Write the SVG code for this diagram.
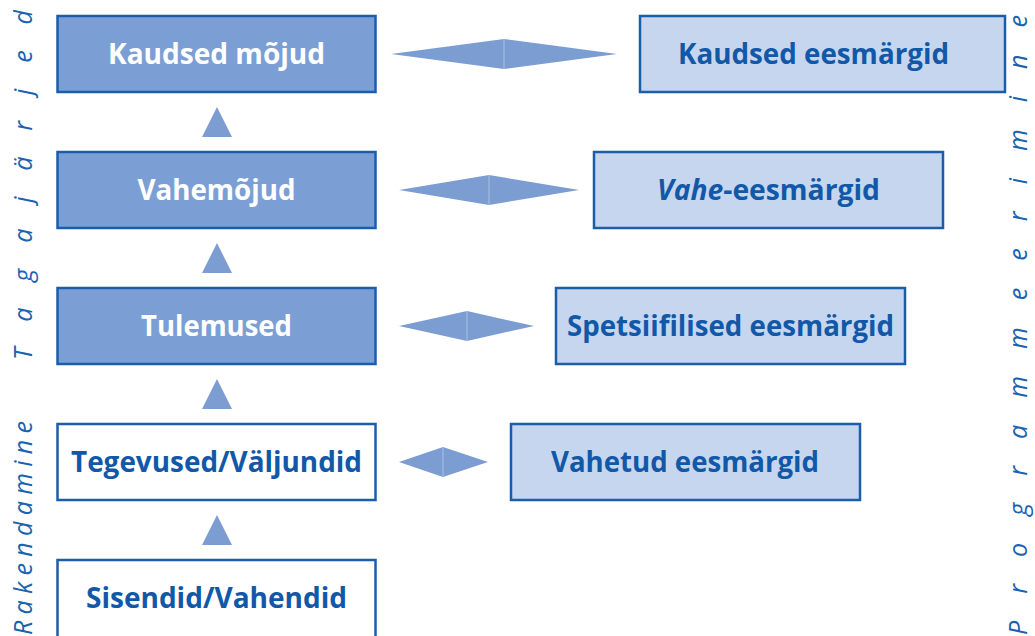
<svg xmlns="http://www.w3.org/2000/svg" width="1035" height="636" viewBox="0 0 1035 636">
  <defs>
    <style>
      .dark { fill: #7b9fd4; stroke: #1a5eab; stroke-width: 2.5; }
      .light { fill: #c7d6ef; stroke: #1a5eab; stroke-width: 2.5; }
      .white { fill: #ffffff; stroke: #1a5eab; stroke-width: 2.5; }
      .lbl { font-family: "Open Sans", "Liberation Sans", sans-serif; font-weight: bold; font-size: 28px; text-anchor: middle; }
      .lw { fill: #ffffff; }
      .lb { fill: #1159a8; }
      .side { font-family: "Open Sans", "Liberation Sans", sans-serif; font-style: italic; font-size: 25px; fill: #1a63b0; }
      .dia { fill: #7b9dd1; }
      .mid { stroke: #a9c1e6; stroke-width: 1; }
      .tri { fill: #7b9dd1; }
    </style>
  </defs>

  <g id="side-labels">
    <text class="side" transform="translate(32,360) rotate(-90)" textLength="350" lengthAdjust="spacing">Tagajärjed</text>
    <text class="side" transform="translate(32,635) rotate(-90)" textLength="214" lengthAdjust="spacing">Rakendamine</text>
    <text class="side" transform="translate(1027,635) rotate(-90)" textLength="620" lengthAdjust="spacing">Programmeerimine</text>
  </g>

  <g id="connectors">
    <g id="diamond1">
      <polygon class="dia" points="391,54 504,39 617,54 504,69"/>
      <line class="mid" x1="504" y1="39" x2="504" y2="69"/>
    </g>
    <g id="diamond2">
      <polygon class="dia" points="399,190 489,175 579,190 489,205"/>
      <line class="mid" x1="489" y1="175" x2="489" y2="205"/>
    </g>
    <g id="diamond3">
      <polygon class="dia" points="399,326 467,311 534,326 467,341"/>
      <line class="mid" x1="467" y1="311" x2="467" y2="341"/>
    </g>
    <g id="diamond4">
      <polygon class="dia" points="399,462 443,447 488,462 443,477"/>
      <line class="mid" x1="443" y1="447" x2="443" y2="477"/>
    </g>
    <polygon class="tri" points="217,107 232,137 202,137"/>
    <polygon class="tri" points="217,243 232,273 202,273"/>
    <polygon class="tri" points="217,379 232,409 202,409"/>
    <polygon class="tri" points="217,515 232,545 202,545"/>
  </g>

  <g id="kaudsed-mojud">
    <rect class="dark" x="57.5" y="16" width="318" height="76"/>
    <text class="lbl lw" x="216.5" y="64" textLength="217" lengthAdjust="spacingAndGlyphs">Kaudsed mõjud</text>
  </g>
  <g id="vahemojud">
    <rect class="dark" x="57.5" y="152" width="318" height="76"/>
    <text class="lbl lw" x="216.5" y="200" textLength="158" lengthAdjust="spacingAndGlyphs">Vahemõjud</text>
  </g>
  <g id="tulemused">
    <rect class="dark" x="57.5" y="288" width="318" height="76"/>
    <text class="lbl lw" x="216.5" y="336" textLength="151" lengthAdjust="spacingAndGlyphs">Tulemused</text>
  </g>
  <g id="tegevused">
    <rect class="white" x="57.5" y="424" width="318" height="76"/>
    <text class="lbl lb" x="216.5" y="472" textLength="291" lengthAdjust="spacingAndGlyphs">Tegevused/Väljundid</text>
  </g>
  <g id="sisendid">
    <rect class="white" x="57.5" y="560" width="318" height="80"/>
    <text class="lbl lb" x="216.5" y="608" textLength="261" lengthAdjust="spacingAndGlyphs">Sisendid/Vahendid</text>
  </g>

  <g id="kaudsed-eesmargid">
    <rect class="light" x="640" y="16" width="365" height="76"/>
    <text class="lbl lb" x="813.5" y="64" textLength="271" lengthAdjust="spacingAndGlyphs">Kaudsed eesmärgid</text>
  </g>
  <g id="vahe-eesmargid">
    <rect class="light" x="594" y="152" width="349" height="76"/>
    <text class="lbl lb" x="768.5" y="200" textLength="223" lengthAdjust="spacingAndGlyphs"><tspan font-style="italic">Vahe</tspan>-eesmärgid</text>
  </g>
  <g id="spetsiifilised-eesmargid">
    <rect class="light" x="556" y="288" width="349" height="76"/>
    <text class="lbl lb" x="730.5" y="336" textLength="327" lengthAdjust="spacingAndGlyphs">Spetsiifilised eesmärgid</text>
  </g>
  <g id="vahetud-eesmargid">
    <rect class="light" x="511" y="424" width="349" height="76"/>
    <text class="lbl lb" x="685" y="472" textLength="268" lengthAdjust="spacingAndGlyphs">Vahetud eesmärgid</text>
  </g>
</svg>
